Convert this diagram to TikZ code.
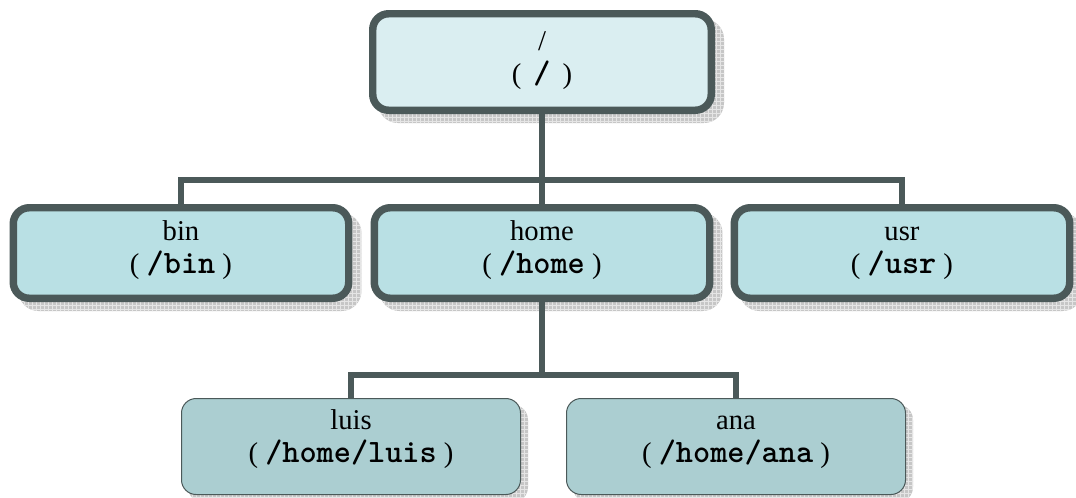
\documentclass[tikz,border=0pt]{standalone}
\usepackage{fontspec}
\setmainfont{Liberation Serif}
\newfontfamily\pthfont{Latin Modern Mono Light}
\usetikzlibrary{patterns}
\definecolor{bord}{HTML}{4B5959}
\definecolor{fone}{HTML}{DAEEF1}
\definecolor{ftwo}{HTML}{B9E0E4}
\definecolor{fthree}{HTML}{ABCED1}
\definecolor{shd}{HTML}{C6C6C6}
\pgfdeclarelayer{bg}
\pgfsetlayers{bg,main}
\newcommand{\pth}[1]{{\pthfont\bfseries\fontsize{24.5pt}{24.75pt}\selectfont #1}}
\newcommand{\up}{\rule{0pt}{15pt}}
\newcommand{\dn}[1]{\rule[-#1]{0pt}{0pt}}
\begin{document}
\begin{tikzpicture}[x=0.75pt,y=-0.75pt,
  every node/.style={font=\fontsize{21.5pt}{24.75pt}\selectfont, align=center, inner sep=0pt, outer sep=0pt},
  bigbox/.style={draw=bord, line width=5.6pt, rounded corners=12pt, minimum width=251.6pt, minimum height=67.9pt},
  rootbox/.style={bigbox, fill=fone, minimum width=253.9pt, minimum height=72.4pt},
  midbox/.style={bigbox, fill=ftwo},
  leafbox/.style={draw=bord, line width=0.75pt, rounded corners=11pt, fill=fthree, minimum width=254.25pt, minimum height=72pt},
  shadowfill/.style={fill=shd, postaction={pattern=grid, pattern color=white!55!shd}},
  conn/.style={draw=bord, line width=4.5pt}
]
\useasboundingbox (0,0) rectangle (1076,497);

\node[rootbox] (root) at (542,62) {\up/\\(\hspace{9pt}\pth{/}\hspace{9pt})\dn{8.25pt}};
\node[midbox] (bin) at (181,253) {\up bin\\( \pth{/bin} )\dn{9.75pt}};
\node[midbox] (home) at (542,253) {\up home\\( \pth{/home} )\dn{9.75pt}};
\node[midbox] (usr) at (902,253) {\up usr\\( \pth{/usr} )\dn{9.75pt}};
\node[leafbox] (luis) at (351,446.5) {\up luis\\( \pth{/home/luis} )\dn{16pt}};
\node[leafbox] (ana) at (736,446.5) {\up ana\\( \pth{/home/ana} )\dn{16pt}};

\begin{pgfonlayer}{bg}
  \foreach \n in {root,bin,home,usr}{
    \path[shadowfill, rounded corners=15pt] ([shift={(5.25,12.75)}]\n.south west) rectangle ([shift={(12.75,5.25)}]\n.north east);
  }
  \foreach \n in {luis,ana}{
    \path[shadowfill, rounded corners=11pt] ([shift={(6.5,7.5)}]\n.south west) rectangle ([shift={(7.5,6.5)}]\n.north east);
  }
\end{pgfonlayer}

\coordinate (j1) at (542,179.5);
\coordinate (j2) at (542,375);
\draw[conn] (root.south) -- (j1);
\draw[conn] (j1) -| (bin.north);
\draw[conn] (j1) -| (usr.north);
\draw[conn] (j1) -- (home.north);
\draw[conn] (home.south) -- (j2);
\draw[conn] (j2) -| (luis.north);
\draw[conn] (j2) -| (ana.north);
\end{tikzpicture}
\end{document}
